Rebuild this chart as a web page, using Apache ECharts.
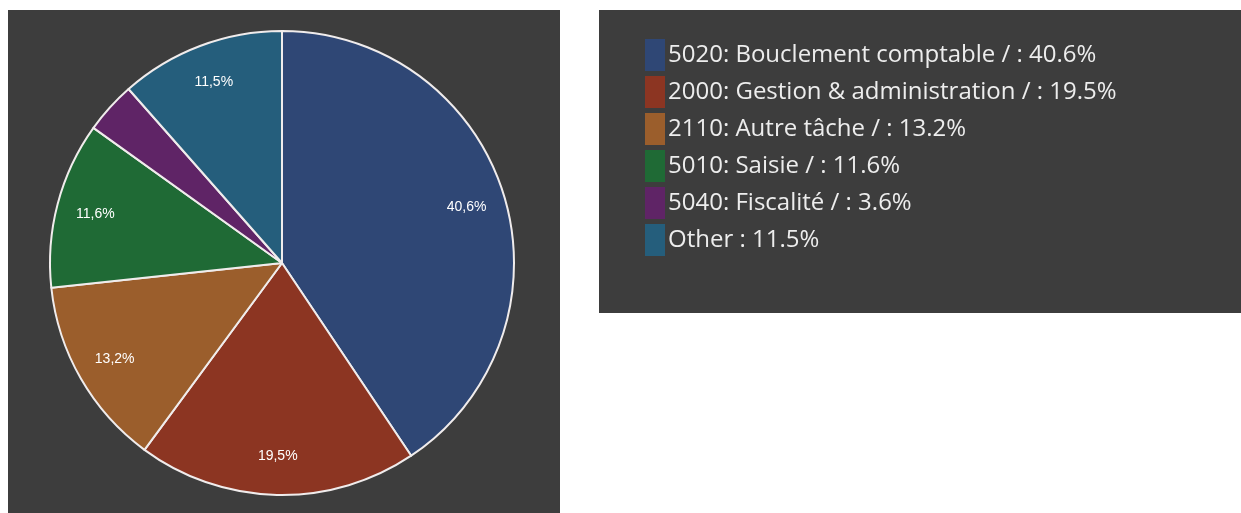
<!DOCTYPE html>
<html>
<head>
<meta charset="utf-8">
<script src="https://cdn.jsdelivr.net/npm/echarts@6/dist/echarts.min.js"></script>
<style>
  html, body { margin: 0; padding: 0; background: #fff; }
  #chart { width: 1241px; height: 513px; }
</style>
</head>
<body>
<div id="chart"></div>
<script>
// slice names and shares (%)
const categories = [
  '5020: Bouclement comptable /',
  '2000: Gestion & administration /',
  '2110: Autre tâche /',
  '5010: Saisie /',
  '5040: Fiscalité /',
  'Other'
]
const shares = [40.6, 19.5, 13.2, 11.6, 3.6, 11.5]
const colors = ['#2f4775', '#8c3522', '#9b5e2c', '#1f6a35', '#5f2466', '#255e7c']

const chart = echarts.init(document.getElementById('chart'))

const data = categories.map((name, i) => ({
  name,
  value: shares[i],
  itemStyle: { color: colors[i] }
}))

const option = {
  backgroundColor: '#fff',
  animation: false,
  graphic: [
    { type: 'rect', z: -10, shape: { x: 8, y: 10, width: 552, height: 503 }, style: { fill: '#3d3d3d' } },
    { type: 'rect', z: -10, shape: { x: 599, y: 10, width: 642, height: 303 }, style: { fill: '#3d3d3d' } }
  ],
  legend: {
    orient: 'vertical',
    left: 645,
    top: 39,
    padding: 0,
    itemWidth: 20,
    itemHeight: 32,
    itemGap: 5,
    icon: 'rect',
    selectedMode: false,
    itemStyle: { borderWidth: 0 },
    textStyle: {
      color: '#ededed',
      fontSize: 24,
      fontFamily: 'Open Sans',
      padding: [6, 0, 0, -2]
    },
    formatter: name => {
      const i = categories.indexOf(name)
      return name + ' : ' + shares[i].toFixed(1) + '%'
    },
    data: categories
  },
  series: [
    {
      type: 'pie',
      center: [282, 263],
      radius: [0, 232],
      startAngle: 90,
      clockwise: true,
      silent: true,
      label: { show: false },
      labelLine: { show: false },
      itemStyle: { borderColor: '#f0ecec', borderWidth: 2 },
      data: data
    },
    {
      // label carrier: same data, transparent ring so labels sit near the rim
      type: 'pie',
      center: [282, 263],
      radius: [148, 232],
      startAngle: 90,
      clockwise: true,
      silent: true,
      legendHoverLink: false,
      itemStyle: { color: 'rgba(0,0,0,0)', borderWidth: 0 },
      label: {
        show: true,
        position: 'inside',
        color: '#ffffff',
        fontSize: 14,
        fontFamily: 'Liberation Sans',
        // small slices get no label
        formatter: p => shares[p.dataIndex] < 5 ? '' : shares[p.dataIndex].toFixed(1).replace('.', ',') + '%'
      },
      labelLine: { show: false },
      data: categories.map((name, i) => ({ name: name + ' ', value: shares[i], itemStyle: { color: 'rgba(0,0,0,0)' } }))
    }
  ]
}

chart.setOption(option)
</script>
</body>
</html>
